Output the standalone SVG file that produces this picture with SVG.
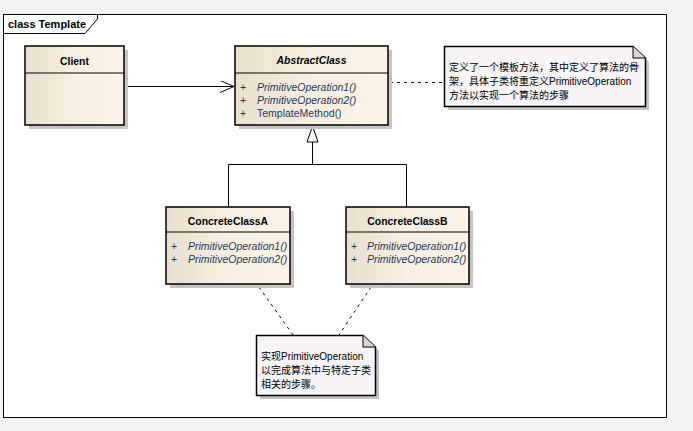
<svg xmlns="http://www.w3.org/2000/svg" width="693" height="431" viewBox="0 0 693 431">
<defs>
<linearGradient id="cls" x1="0" y1="0" x2="1" y2="0">
<stop offset="0" stop-color="#e8dfcf"/>
<stop offset="0.5" stop-color="#f8efe2"/>
<stop offset="1" stop-color="#fbf3e6"/>
</linearGradient>
<marker id="open" markerWidth="16" markerHeight="12" refX="14" refY="6" orient="auto" markerUnits="userSpaceOnUse">
<path d="M0,0 L14,6 L0,12" fill="none" stroke="#000" stroke-width="1"/>
</marker>
</defs>
<style>
.shadow{fill:#c4c4c4}
.box{fill:url(#cls);stroke:#000;stroke-width:1.5}
.div{stroke:#000;stroke-width:1}
.title{font-family:"Liberation Sans",Arial,sans-serif;font-size:10.4px;font-weight:bold;fill:#000;text-anchor:middle}
.op{font-family:"Liberation Sans",Arial,sans-serif;font-size:10.5px;fill:#1e3a5a}
.it{font-style:italic}
.note{fill:#f7f3f7;stroke:#000;stroke-width:1.5}
.ntext{font-family:"Liberation Sans","Noto Sans CJK SC",sans-serif;font-size:10px;fill:#000}
.line{fill:none;stroke:#000;stroke-width:1}
.dash{fill:none;stroke:#000;stroke-width:1;stroke-dasharray:3,4}
</style>
<rect x="0" y="0" width="693" height="431" fill="#f3f3f3"/>
<g id="frame">
<rect x="3.5" y="14.5" width="663" height="403" fill="#fff" stroke="#000" stroke-width="1"/>
<path d="M3.5,33.5 H85 L97.5,19 V14.5" fill="none" stroke="#000" stroke-width="1"/>
<text x="8" y="28" font-family="Liberation Sans,Arial,sans-serif" font-size="11px" font-weight="bold">class Template</text>
</g>
<g id="connectors">
<line class="line" x1="124" y1="86.5" x2="234" y2="86.5" marker-end="url(#open)"/>
<line class="dash" x1="390" y1="82.5" x2="444" y2="82.5"/>
<polyline class="line" points="228.5,207 228.5,164.5 406.5,164.5 406.5,207"/>
<line class="line" x1="312.5" y1="164.5" x2="312.5" y2="142"/>
<path d="M312.5,126 L318,142 L307,142 Z" fill="#fff" stroke="#000" stroke-width="1"/>
<line class="dash" x1="259" y1="287" x2="293" y2="335"/>
<line class="dash" x1="371" y1="287" x2="339" y2="335"/>
</g>
<g id="Client">
<rect class="shadow" x="29" y="50" width="99" height="79"/>
<rect class="box" x="25" y="46" width="99" height="79"/>
<line class="div" x1="25" y1="73" x2="124" y2="73"/>
<text class="title" x="74.5" y="65">Client</text>
</g>
<g id="AbstractClass">
<rect class="shadow" x="239" y="50" width="153" height="79"/>
<rect class="box" x="235" y="46" width="153" height="79"/>
<line class="div" x1="235" y1="73" x2="388" y2="73"/>
<text class="title it" x="311.5" y="64">AbstractClass</text>
<text class="op" x="240" y="91">+</text><text class="op it" x="257" y="91">PrimitiveOperation1()</text>
<text class="op" x="240" y="104">+</text><text class="op it" x="257" y="104">PrimitiveOperation2()</text>
<text class="op" x="240" y="117">+</text><text class="op" x="257" y="117">TemplateMethod()</text>
</g>
<g id="ConcreteClassA">
<rect class="shadow" x="170" y="211" width="124" height="77"/>
<rect class="box" x="166" y="207" width="124" height="77"/>
<line class="div" x1="166" y1="232" x2="290" y2="232"/>
<text class="title" x="228" y="225">ConcreteClassA</text>
<text class="op" x="171" y="250">+</text><text class="op it" x="188" y="250">PrimitiveOperation1()</text>
<text class="op" x="171" y="263">+</text><text class="op it" x="188" y="263">PrimitiveOperation2()</text>
</g>
<g id="ConcreteClassB">
<rect class="shadow" x="350" y="211" width="123" height="77"/>
<rect class="box" x="346" y="207" width="123" height="77"/>
<line class="div" x1="346" y1="232" x2="469" y2="232"/>
<text class="title" x="407.5" y="225">ConcreteClassB</text>
<text class="op" x="351" y="250">+</text><text class="op it" x="367" y="250">PrimitiveOperation1()</text>
<text class="op" x="351" y="263">+</text><text class="op it" x="367" y="263">PrimitiveOperation2()</text>
</g>
<g id="Note1">
<path class="shadow" d="M448,50 H637 L649,62 V110 H448 Z"/>
<path class="note" d="M444.5,46.5 H633 L645.5,58 V106.5 H444.5 Z"/>
<path d="M633,46.5 V58 H645.5" fill="#d8d4d8" stroke="#000" stroke-width="1"/>
<text class="ntext" x="449" y="71">定义了一个模板方法，其中定义了算法的骨</text>
<text class="ntext" x="449" y="85">架，具体子类将重定义PrimitiveOperation</text>
<text class="ntext" x="449" y="99">方法以实现一个算法的步骤</text>
</g>
<g id="Note2">
<path class="shadow" d="M260,339 H367 L379,351 V399 H260 Z"/>
<path class="note" d="M256.5,335.5 H363 L375.5,347 V395.5 H256.5 Z"/>
<path d="M363,335.5 V347 H375.5" fill="#d8d4d8" stroke="#000" stroke-width="1"/>
<text class="ntext" x="261" y="360">实现PrimitiveOperation</text>
<text class="ntext" x="261" y="374">以完成算法中与特定子类</text>
<text class="ntext" x="261" y="388">相关的步骤。</text>
</g>
</svg>
